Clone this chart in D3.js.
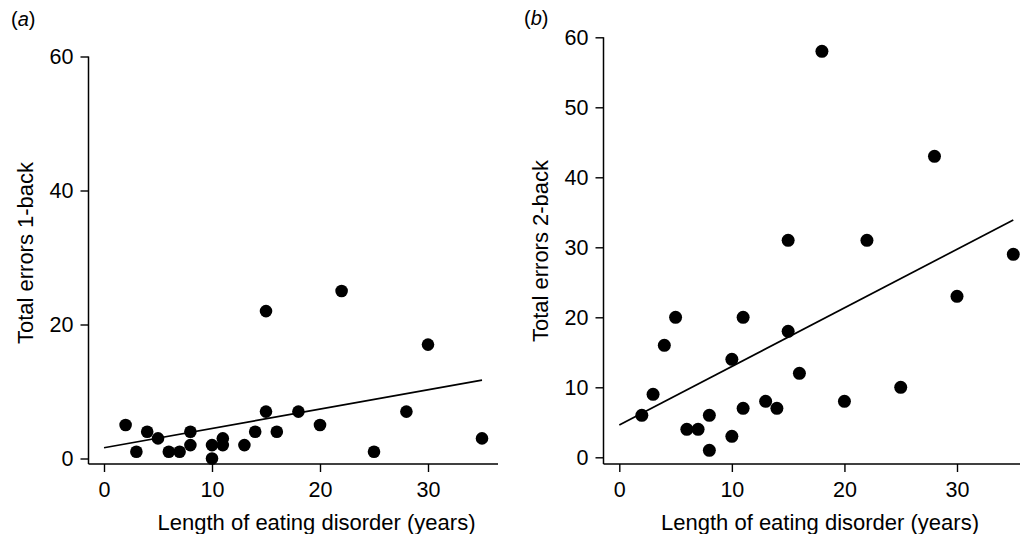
<!DOCTYPE html>
<html>
<head>
<meta charset="utf-8">
<script src="https://cdn.jsdelivr.net/npm/d3@7"></script>
<style>
  html, body { margin: 0; padding: 0; background: #fff; }
  svg { display: block; }
  text { font-family: "Liberation Sans", Arial, sans-serif; fill: #000; }
</style>
</head>
<body>
<svg id="chart" width="1020" height="534"></svg>
<script>
// ---- Data ----
const lengthYears = [2, 3, 4, 5, 6, 7, 8, 8, 10, 10, 11, 11, 13, 14, 15, 15, 16, 18, 20, 22, 25, 28, 30, 35];
const errors1back = [5, 1, 4, 3, 1, 1, 4, 2, 2, 0, 3, 2, 2, 4, 7, 22, 4, 7, 5, 25, 1, 7, 17, 3];

const lengthYearsB = [2, 3, 4, 5, 6, 7, 8, 8, 10, 10, 11, 11, 13, 14, 15, 15, 16, 18, 20, 22, 25, 28, 30, 35];
const errors2back  = [6, 9, 16, 20, 4, 4, 6, 1, 14, 3, 20, 7, 8, 7, 31, 18, 12, 58, 8, 31, 10, 43, 23, 29];

// fitted regression lines (end points)
const fitXA = [0, 35];
const fitYA = [1.6, 11.7];
const fitXB = [0, 35];
const fitYB = [4.6, 33.9];

const xTicks = [0, 10, 20, 30];
const yTicksA = [0, 20, 40, 60];
const yTicksB = [0, 10, 20, 30, 40, 50, 60];

const xTitle = "Length of eating disorder (years)";
const yTitleA = "Total errors 1-back";
const yTitleB = "Total errors 2-back";

// ---- Drawing ----
const svg = d3.select("#chart");

function panel(cfg) {
  const g = svg.append("g");
  const x = d3.scaleLinear().domain([0, 30]).range(cfg.xr);
  const y = d3.scaleLinear().domain([0, 60]).range(cfg.yr);

  // spines (L-shaped)
  g.append("line")
    .attr("x1", cfg.spineX).attr("x2", cfg.spineX)
    .attr("y1", y(60)).attr("y2", cfg.spineY)
    .attr("stroke", "#000").attr("stroke-width", 1.5);
  g.append("line")
    .attr("x1", cfg.spineX).attr("x2", cfg.xEnd)
    .attr("y1", cfg.spineY).attr("y2", cfg.spineY)
    .attr("stroke", "#000").attr("stroke-width", 1.5);

  // y axis
  const ya = g.append("g")
    .attr("transform", `translate(${cfg.spineX},0)`)
    .call(d3.axisLeft(y).tickValues(cfg.yTicks).tickFormat(d3.format("d")).tickSize(8).tickPadding(7));
  ya.select(".domain").remove();
  ya.selectAll(".tick line").attr("stroke", "#000").attr("stroke-width", 1.4);
  ya.selectAll(".tick text").attr("font-size", 21.5).attr("font-family", "Liberation Sans, Arial, sans-serif").attr("fill", "#000");

  // x axis
  const xa = g.append("g")
    .attr("transform", `translate(0,${cfg.spineY})`)
    .call(d3.axisBottom(x).tickValues(xTicks).tickFormat(d3.format("d")).tickSize(8).tickPadding(10));
  xa.select(".domain").remove();
  xa.selectAll(".tick line").attr("stroke", "#000").attr("stroke-width", 1.4);
  xa.selectAll(".tick text").attr("font-size", 21.5).attr("font-family", "Liberation Sans, Arial, sans-serif").attr("fill", "#000");

  // regression line
  const fit = cfg.fitX.map((v, i) => [v, cfg.fitY[i]]);
  g.append("path")
    .datum(fit)
    .attr("d", d3.line().x(d => x(d[0])).y(d => y(d[1])))
    .attr("fill", "none").attr("stroke", "#000").attr("stroke-width", 1.7);

  // points
  g.selectAll("circle.pt")
    .data(cfg.xs.map((v, i) => [v, cfg.ys[i]]))
    .join("circle")
    .attr("class", "pt")
    .attr("cx", d => x(d[0]))
    .attr("cy", d => y(d[1]))
    .attr("r", cfg.r)
    .attr("fill", "#000");

  // titles
  g.append("text")
    .attr("x", cfg.xTitleX).attr("y", 530)
    .attr("text-anchor", "middle")
    .attr("font-size", 22)
    .text(xTitle);
  g.append("text")
    .attr("transform", `translate(${cfg.yTitleX},${cfg.yTitleY}) rotate(-90)`)
    .attr("text-anchor", "middle")
    .attr("font-size", 22)
    .text(cfg.yTitle);

  // panel label
  const lab = g.append("text")
    .attr("x", cfg.labX).attr("y", cfg.labY)
    .attr("font-size", 20);
  lab.append("tspan").text("(");
  lab.append("tspan").attr("font-style", "italic").text(cfg.label);
  lab.append("tspan").text(")");
}

panel({
  xr: [104, 428], yr: [458.5, 56.5],
  spineX: 88.5, spineY: 464, xEnd: 498,
  yTicks: yTicksA, xs: lengthYears, ys: errors1back,
  fitX: fitXA, fitY: fitYA, r: 6.3,
  xTitleX: 316.5, yTitleX: 33, yTitleY: 253, yTitle: yTitleA,
  label: "a", labX: 11, labY: 26
});

panel({
  xr: [619.3, 957], yr: [457.3, 37.3],
  spineX: 603.5, spineY: 464, xEnd: 1030,
  yTicks: yTicksB, xs: lengthYearsB, ys: errors2back,
  fitX: fitXB, fitY: fitYB, r: 6.5,
  xTitleX: 820, yTitleX: 548, yTitleY: 251, yTitle: yTitleB,
  label: "b", labX: 524, labY: 25
});
</script>
</body>
</html>
